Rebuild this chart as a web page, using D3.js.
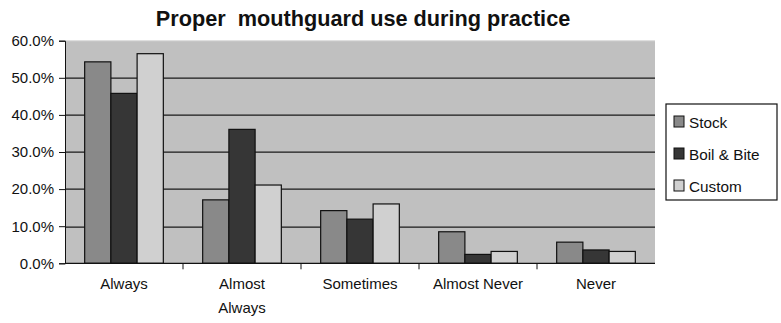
<!DOCTYPE html>
<html>
<head>
<meta charset="utf-8">
<script src="https://cdn.jsdelivr.net/npm/d3@7"></script>
<style>
  body { margin: 0; background: #fff; }
  svg text { font-family: Arial, "Liberation Sans", sans-serif; fill: #111; }
  .axis path, .axis line { stroke: #111; }
</style>
</head>
<body>
<svg id="chart" width="781" height="323"></svg>
<script>
// data
const categories = ["Always", "Almost Always", "Sometimes", "Almost Never", "Never"];
const seriesNames = ["Stock", "Boil & Bite", "Custom"];
const stock = [0.543, 0.171, 0.142, 0.085, 0.057];
const boilBite = [0.458, 0.361, 0.119, 0.024, 0.036];
const custom = [0.565, 0.211, 0.160, 0.032, 0.032];
const yTicks = [0, 0.1, 0.2, 0.3, 0.4, 0.5, 0.6];
const colors = ["#898989", "#363636", "#d0d0d0"];

const seriesValues = [stock, boilBite, custom];
const rows = categories.map((c, i) => ({
  cat: c,
  vals: seriesNames.map((s, j) => ({ name: s, v: seriesValues[j][i] }))
}));

const svg = d3.select("#chart");
const pad = { top: 40.7, left: 65, right: 126, bottom: 59.7 };
const W = 781, H = 323;
const innerW = W - pad.left - pad.right;
const innerH = H - pad.top - pad.bottom;

const g = svg.append("g").attr("transform", `translate(${pad.left},${pad.top})`);

const x = d3.scaleBand().domain(categories).range([0, innerW]).paddingInner(0).paddingOuter(0);
const xs = d3.scaleBand().domain(seriesNames).range([0, x.bandwidth()]).paddingOuter(0.75).paddingInner(0);
const y = d3.scaleLinear().domain([0, 0.6]).range([innerH, 0]);
const color = d3.scaleOrdinal().domain(seriesNames).range(colors);

// plot background
g.append("rect")
  .attr("x", 0).attr("y", 0)
  .attr("width", innerW).attr("height", innerH)
  .attr("fill", "#c0c0c0");
g.append("line")
  .attr("x1", 0).attr("x2", innerW).attr("y1", 0).attr("y2", 0)
  .attr("stroke", "#dcdcdc");

// gridlines
g.selectAll(".grid")
  .data(yTicks.filter(t => t > 0 && t < 0.6))
  .enter().append("line")
  .attr("class", "grid")
  .attr("x1", 0).attr("x2", innerW)
  .attr("y1", d => Math.round(y(d)) + 0.5).attr("y2", d => Math.round(y(d)) + 0.5)
  .attr("stroke", "#1a1a1a").attr("stroke-width", 1.3);

// bars
const groups = g.selectAll(".grp")
  .data(rows)
  .enter().append("g")
  .attr("class", "grp")
  .attr("transform", d => `translate(${x(d.cat)},0)`);

groups.selectAll("rect")
  .data(d => d.vals)
  .enter().append("rect")
  .attr("x", d => xs(d.name))
  .attr("width", xs.bandwidth())
  .attr("y", d => y(d.v))
  .attr("height", d => innerH - y(d.v))
  .attr("fill", d => color(d.name))
  .attr("stroke", "#111")
  .attr("stroke-width", 1.2);

// y axis
const yAxis = g.append("g").attr("class", "axis")
  .call(d3.axisLeft(y).tickValues(yTicks).tickFormat(d3.format(".1%")).tickSize(6).tickPadding(5));
yAxis.selectAll("text").style("font-size", "15px");

// x axis, ticks at category boundaries
const xAxis = g.append("g").attr("class", "axis")
  .attr("transform", `translate(0,${innerH})`);
xAxis.append("line")
  .attr("x1", 0).attr("x2", innerW).attr("y1", 0).attr("y2", 0)
  .attr("stroke", "#111").attr("stroke-width", 1.2);
xAxis.selectAll(".tk")
  .data(categories.slice(1))
  .enter().append("line")
  .attr("x1", d => x(d)).attr("x2", d => x(d))
  .attr("y1", 0).attr("y2", 6)
  .attr("stroke", "#111");

xAxis.selectAll(".lbl")
  .data(categories)
  .enter().append("text")
  .attr("text-anchor", "middle")
  .style("font-size", "15px")
  .attr("x", d => x(d) + x.bandwidth() / 2)
  .attr("y", 26)
  .each(function(d) {
    const words = d === "Almost Always" ? ["Almost", "Always"] : [d];
    d3.select(this).selectAll("tspan")
      .data(words)
      .enter().append("tspan")
      .attr("x", x(d) + x.bandwidth() / 2)
      .attr("dy", (w, i) => i === 0 ? 0 : 24)
      .text(w => w);
  });

// title
svg.append("text")
  .attr("x", 363).attr("y", 26)
  .attr("text-anchor", "middle")
  .style("font-size", "21.7px")
  .style("font-weight", "bold")
  .style("white-space", "pre")
  .attr("xml:space", "preserve")
  .text("Proper  mouthguard use during practice");

// legend
const legend = svg.append("g").attr("transform", "translate(666,104)");
legend.append("rect")
  .attr("width", 111).attr("height", 96)
  .attr("fill", "#fff").attr("stroke", "#111").attr("stroke-width", 1.2);
const li = legend.selectAll(".li")
  .data(seriesNames)
  .enter().append("g")
  .attr("transform", (d, i) => `translate(8,${18 + i * 32})`);
li.append("rect")
  .attr("x", 0).attr("y", -6)
  .attr("width", 10).attr("height", 11)
  .attr("fill", d => color(d))
  .attr("stroke", "#111");
li.append("text")
  .attr("x", 15).attr("y", 5.5)
  .style("font-size", "15.3px")
  .text(d => d);
</script>
</body>
</html>
